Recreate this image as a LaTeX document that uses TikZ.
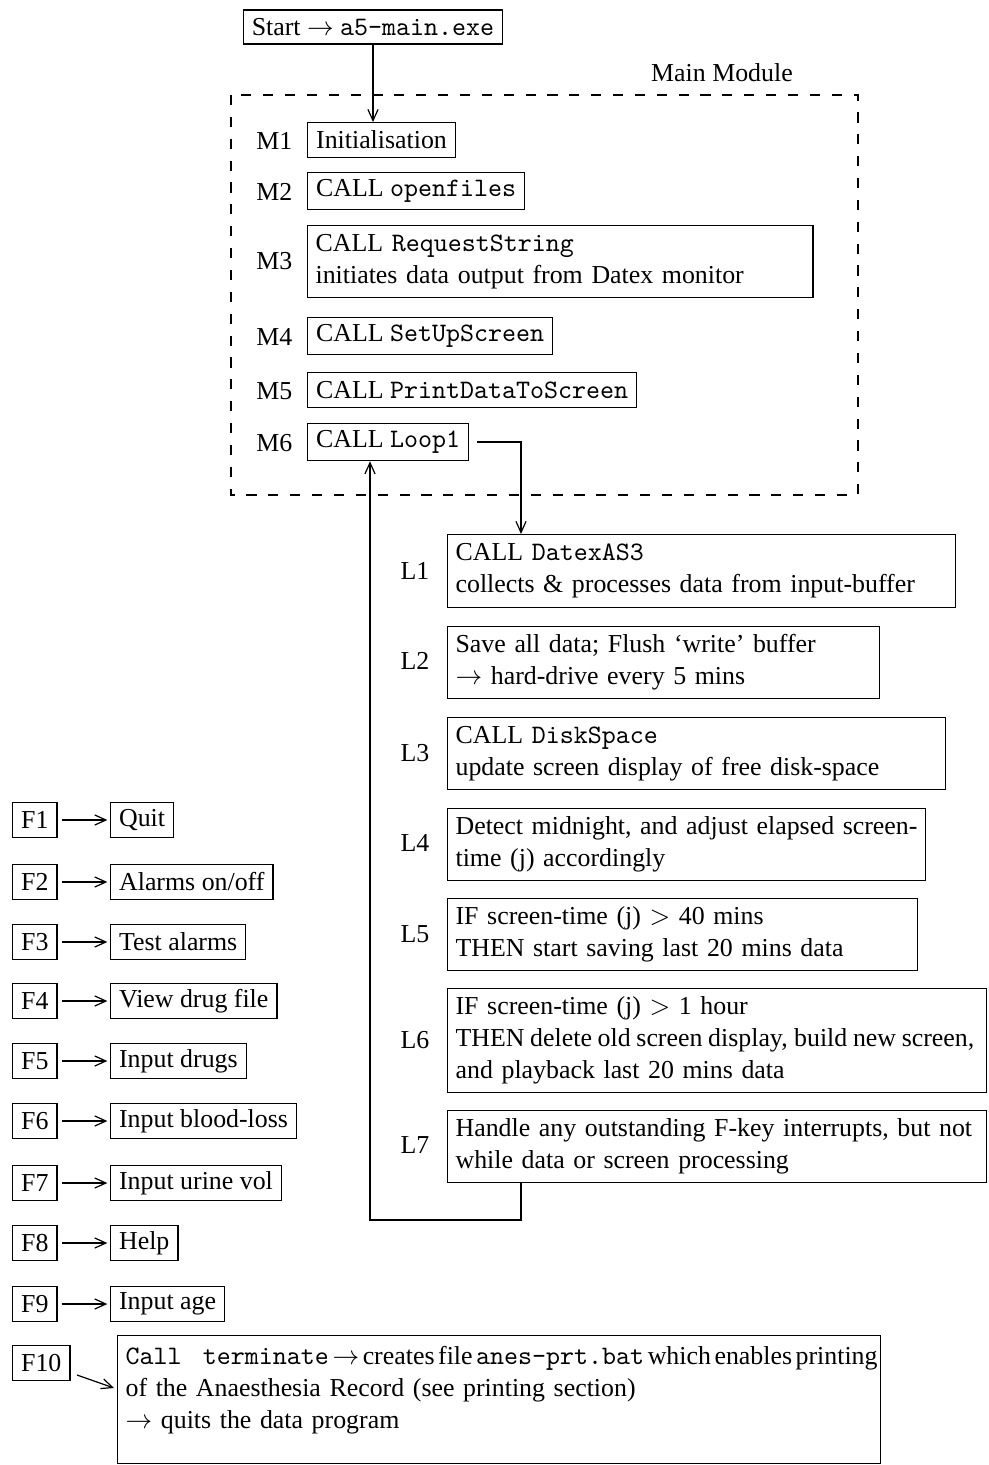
\documentclass[tikz,border=0pt]{standalone}
\usepackage{fontspec}
\setmainfont[Scale=0.97]{Liberation Serif}
\usetikzlibrary{arrows.meta}
\newcommand{\oneline}[1]{\mbox{#1}}
\begin{document}
\begin{tikzpicture}[x=0.375pt,y=-0.375pt,
  line width=0.45pt,
  every node/.style={font=\fontsize{10}{12}\selectfont},
  box/.style={draw,inner xsep=3pt,inner ysep=3pt,align=left,anchor=north west},
  onebox/.style={draw,inner xsep=3.2pt,inner ysep=0pt,minimum height=13pt,anchor=west},
  lbl/.style={inner sep=0pt},
  arr/.style={-{Straight Barb[length=4.2pt,width=3.8pt]}},
  frame/.style={dash pattern=on 3.8pt off 4.4pt}]
\useasboundingbox (0,0) rectangle (988,1465);

% entry point
\node[draw,inner xsep=3.2pt,inner ysep=0pt,minimum height=12.8pt] (start) at (373,27)
  {Start $\rightarrow$ \texttt{a5-main.exe}};

% main module frame
\draw[frame] (231,95) rectangle (858,495);
\node[lbl] (mmlabel) at (722,73) {Main Module};

\node[onebox] (m1) at (307,140) {Initialisation};
\node[lbl,anchor=east] (m1l) at (293,141) {M1};
\node[onebox,minimum height=14pt] (m2) at (307,191) {CALL \texttt{openfiles}};
\node[lbl,anchor=east] (m2l) at (293,192) {M2};
\node[box,text width=183.5pt,minimum height=27pt] (m3) at (307,225)
  {\oneline{CALL \texttt{RequestString}}\\\oneline{initiates data output from Datex monitor}};
\node[lbl,anchor=east] (m3l) at (293,261) {M3};
\node[onebox,minimum height=14pt] (m4) at (307,336) {CALL \texttt{SetUpScreen}};
\node[lbl,anchor=east] (m4l) at (293,337) {M4};
\node[onebox] (m5) at (307,390) {CALL \texttt{PrintDataToScreen}};
\node[lbl,anchor=east] (m5l) at (293,391) {M5};
\node[onebox,minimum height=14pt] (m6) at (307,442) {CALL \texttt{Loop1}};
\node[lbl,anchor=east] (m6l) at (293,443) {M6};

% Loop1 body
\node[box,text width=184.5pt,minimum height=27.4pt] (l1) at (447,534)
  {\oneline{CALL \texttt{DatexAS3}}\\\oneline{collects \& processes data from input-buffer}};
\node[lbl] (l1l) at (415,571) {L1};
\node[box,text width=156pt,minimum height=26.6pt] (l2) at (447,626)
  {\oneline{Save all data; Flush `write' buffer}\\\oneline{$\rightarrow$ hard-drive every 5 mins}};
\node[lbl] (l2l) at (415,661) {L2};
\node[box,text width=180.7pt,minimum height=27pt] (l3) at (447,717)
  {\oneline{CALL \texttt{DiskSpace}}\\\oneline{update screen display of free disk-space}};
\node[lbl] (l3l) at (415,753) {L3};
\node[box,text width=173.2pt,minimum height=26.6pt] (l4) at (447,808)
  {\oneline{Detect midnight, and adjust elapsed screen-}\\\oneline{time (j) accordingly}};
\node[lbl] (l4l) at (415,843) {L4};
\node[box,text width=170.2pt,minimum height=27pt] (l5) at (447,898)
  {\oneline{IF screen-time (j) $>$ 40 mins}\\\oneline{THEN start saving last 20 mins data}};
\node[lbl] (l5l) at (415,934) {L5};
\node[box,text width=196.1pt,minimum height=39pt] (l6) at (447,988)
  {\oneline{IF screen-time (j) $>$ 1 hour}\\\oneline{\hbox to 194.5pt{\spaceskip=1pt plus 2pt THEN delete old screen display, build new screen,}}\\\oneline{and playback last 20 mins data}};
\node[lbl] (l6l) at (415,1040) {L6};
\node[box,text width=196.1pt,minimum height=27pt] (l7) at (447,1110)
  {\oneline{Handle any outstanding F-key interrupts, but not}\\\oneline{while data or screen processing}};
\node[lbl] (l7l) at (415,1145) {L7};

% main flow connectors
\draw[arr] (start.south) -- (start.south |- m1.north);
\coordinate (turn) at (521,442);
\draw[arr] ([xshift=3pt]m6.east) -- (turn) -- (turn |- l1.north);
\coordinate (lb) at (521,1220);
\coordinate (lc) at (370,1220);
\draw[arr] (lb |- l7.south) -- (lb) -- (lc) -- (lc |- m6.south);

% function keys
\foreach \k/\t/\y in {1/Quit/820, 2/Alarms on\slash off/882, 3/Test alarms/942,
    4/View drug file/1001, 5/Input drugs/1061, 6/Input blood-loss/1121,
    7/Input urine vol/1183, 8/Help/1243, 9/Input age/1304}{
  \node[onebox] (f\k) at (12,\y) {F\k};
  \node[onebox] (t\k) at (110,\y) {\t};
  \draw[arr] ([xshift=1.5pt]f\k.east) -- ([xshift=-1pt]t\k.west);
}
\node[onebox] (f10) at (12,1363) {F10};
\node[box,text width=280pt,minimum height=48pt] (t10) at (117,1335)
  {\oneline{\hbox to 282pt{\spaceskip=1.5pt plus 2pt minus 0.6pt\texttt{Call}\hspace{8pt}\texttt{terminate} $\rightarrow$ creates file \texttt{anes-prt.bat} which enables printing}}\\\oneline{of the Anaesthesia Record (see printing section)}\\\oneline{$\rightarrow$ quits the data program\rule[-9pt]{0pt}{0pt}}};
\coordinate (f10a) at (77,1375);
\coordinate (f10b) at (114,1388);
\draw[arr] (f10a) -- (f10b);
\end{tikzpicture}
\end{document}
